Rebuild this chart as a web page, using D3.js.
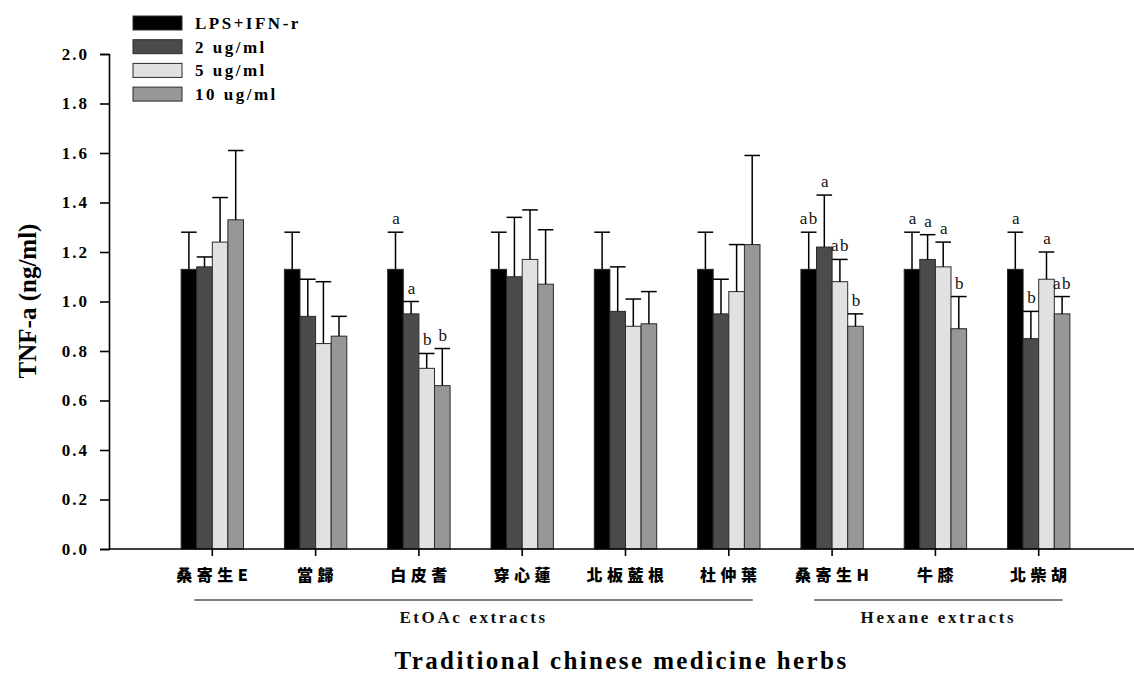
<!DOCTYPE html>
<html>
<head>
<meta charset="utf-8">
<script src="https://cdn.jsdelivr.net/npm/d3@7"></script>
<style>
  html, body { margin: 0; padding: 0; background: #fff; }
  svg { display: block; }
  .serif { font-family: "Liberation Serif", "Times New Roman", serif; }
  .cjk { font-family: "Noto Sans CJK TC", "Noto Sans CJK SC", sans-serif; }
</style>
</head>
<body>
<script>
// Herb extracts on the x axis
const categories = ["桑寄生E", "當歸", "白皮耆", "穿心蓮", "北板藍根", "杜仲葉", "桑寄生H", "牛膝", "北柴胡"];
const seriesNames = ["LPS+IFN-r", "2 ug/ml", "5 ug/ml", "10 ug/ml"];
const seriesColors = ["#000000", "#4b4b4b", "#e1e1e1", "#979797"];

// TNF-a means (ng/ml) and error (SD) per treatment
const lpsMean   = [1.13, 1.13, 1.13, 1.13, 1.13, 1.13, 1.13, 1.13, 1.13];
const lpsErr    = [0.15, 0.15, 0.15, 0.15, 0.15, 0.15, 0.15, 0.15, 0.15];
const dose2Mean = [1.14, 0.94, 0.95, 1.10, 0.96, 0.95, 1.22, 1.17, 0.85];
const dose2Err  = [0.04, 0.15, 0.05, 0.24, 0.18, 0.14, 0.21, 0.10, 0.11];
const dose5Mean = [1.24, 0.83, 0.73, 1.17, 0.90, 1.04, 1.08, 1.14, 1.09];
const dose5Err  = [0.18, 0.25, 0.06, 0.20, 0.11, 0.19, 0.09, 0.10, 0.11];
const dose10Mean = [1.33, 0.86, 0.66, 1.07, 0.91, 1.23, 0.90, 0.89, 0.95];
const dose10Err  = [0.28, 0.08, 0.15, 0.22, 0.13, 0.36, 0.05, 0.13, 0.07];

// Significance letters
const lpsLetters    = ["", "", "a", "", "", "", "ab", "a", "a"];
const dose2Letters  = ["", "", "a", "", "", "", "a", "a", "b"];
const dose5Letters  = ["", "", "b", "", "", "", "ab", "a", "a"];
const dose10Letters = ["", "", "b", "", "", "", "b", "b", "ab"];

// Y axis ticks
const yTicks = [0, 0.2, 0.4, 0.6, 0.8, 1.0, 1.2, 1.4, 1.6, 1.8, 2.0];

// Extract groups shown under the axis
const groupNames = ["EtOAc extracts", "Hexane extracts"];
const groupFirst = ["桑寄生E", "桑寄生H"];
const groupLast  = ["杜仲葉", "北柴胡"];

const means = [lpsMean, dose2Mean, dose5Mean, dose10Mean];
const errs = [lpsErr, dose2Err, dose5Err, dose10Err];
const letters = [lpsLetters, dose2Letters, dose5Letters, dose10Letters];

const W = 1134, H = 673;
const axisLeftX = 109, axisBottomY = 549, axisTopY = 54;
const step = 103.3;

const svg = d3.select("body").append("svg").attr("width", W).attr("height", H);

const y = d3.scaleLinear().domain([0, 2]).range([axisBottomY, axisTopY]);
const x0 = d3.scaleBand()
  .domain(categories)
  .range([axisLeftX + step / 2, axisLeftX + step / 2 + step * categories.length])
  .paddingInner(0.396)
  .paddingOuter(0.198);
const x1 = d3.scaleBand().domain(seriesNames).range([0, x0.bandwidth()]);

// Flatten into bar records
const bars = [];
categories.forEach((c, i) => {
  seriesNames.forEach((s, k) => {
    bars.push({ cat: c, series: s, k, value: means[k][i], err: errs[k][i], letter: letters[k][i] });
  });
});

const barG = svg.append("g");
barG.selectAll("rect").data(bars).join("rect")
  .attr("x", d => x0(d.cat) + x1(d.series))
  .attr("y", d => y(d.value))
  .attr("width", x1.bandwidth())
  .attr("height", d => y(0) - y(d.value))
  .attr("fill", d => seriesColors[d.k])
  .attr("stroke", "#2a2a2a")
  .attr("stroke-width", 1);

// Error bars (upper only)
const errG = svg.append("g").attr("stroke", "#000").attr("stroke-width", 1.5);
bars.forEach(d => {
  const cx = x0(d.cat) + x1(d.series) + x1.bandwidth() / 2;
  const hw = x1.bandwidth() / 2;
  errG.append("line").attr("x1", cx).attr("x2", cx).attr("y1", y(d.value)).attr("y2", y(d.value + d.err));
  errG.append("line").attr("x1", cx - hw).attr("x2", cx + hw).attr("y1", y(d.value + d.err)).attr("y2", y(d.value + d.err));
});

// Letters above error bars
svg.append("g").selectAll("text").data(bars.filter(d => d.letter)).join("text")
  .attr("class", "serif")
  .attr("x", d => x0(d.cat) + x1(d.series) + x1.bandwidth() / 2 + 0.5)
  .attr("y", d => y(d.value + d.err) - 8)
  .attr("text-anchor", "middle")
  .attr("font-size", 17)
  .attr("letter-spacing", d => d.letter.length > 1 ? "1.5px" : "0px")
  .attr("fill", "#111")
  .text(d => d.letter);

// Y axis
const yAxis = d3.axisLeft(y).tickValues(yTicks).tickFormat(d3.format(".1f")).tickSize(9).tickPadding(11);
const yg = svg.append("g").attr("transform", `translate(${axisLeftX},0)`).call(yAxis);
yg.select(".domain").attr("stroke", "#000").attr("stroke-width", 1.6);
yg.selectAll(".tick line").attr("stroke", "#000").attr("stroke-width", 1.6);
yg.selectAll(".tick text")
  .attr("class", "serif")
  .attr("font-size", 17)
  .attr("font-weight", "bold")
  .attr("letter-spacing", "2px")
  .attr("fill", "#000");

// X axis baseline across the full width
svg.append("line")
  .attr("x1", axisLeftX).attr("x2", W).attr("y1", y(0)).attr("y2", y(0))
  .attr("stroke", "#000").attr("stroke-width", 1.6);

const xAxis = d3.axisBottom(x0).tickSize(7).tickFormat("");
const xg = svg.append("g").attr("transform", `translate(0,${y(0)})`).call(xAxis);
xg.select(".domain").remove();
xg.selectAll(".tick line").attr("stroke", "#000").attr("stroke-width", 1.6);

// Category labels
svg.append("g").selectAll("text").data(categories).join("text")
  .attr("class", "cjk")
  .attr("x", d => x0(d) + x0.bandwidth() / 2 + 2)
  .attr("y", 581)
  .attr("text-anchor", "middle")
  .attr("font-size", 16)
  .attr("font-weight", 900)
  .attr("letter-spacing", "4.5px")
  .attr("fill", "#000")
  .text(d => d);

// Extract group brackets
groupNames.forEach((g, i) => {
  const a = x0(groupFirst[i]) + x0.bandwidth() / 2 - 18;
  const b = x0(groupLast[i]) + x0.bandwidth() / 2 + 24;
  svg.append("line").attr("x1", a).attr("x2", b).attr("y1", 600).attr("y2", 600)
    .attr("stroke", "#555").attr("stroke-width", 1.5);
  svg.append("text")
    .attr("class", "serif")
    .attr("x", (a + b) / 2)
    .attr("y", 623)
    .attr("text-anchor", "middle")
    .attr("font-size", 17)
    .attr("font-weight", "bold")
    .attr("letter-spacing", "2.6px")
    .attr("fill", "#111")
    .text(g);
});

// Axis titles
svg.append("text")
  .attr("class", "serif")
  .attr("x", (axisLeftX + W) / 2)
  .attr("y", 669)
  .attr("text-anchor", "middle")
  .attr("font-size", 25)
  .attr("font-weight", "bold")
  .attr("letter-spacing", "2.4px")
  .attr("fill", "#000")
  .text("Traditional chinese medicine herbs");

svg.append("text")
  .attr("class", "serif")
  .attr("transform", "translate(36,301) rotate(-90)")
  .attr("text-anchor", "middle")
  .attr("font-size", 25)
  .attr("font-weight", "bold")
  .attr("fill", "#000")
  .text("TNF-a (ng/ml)");

// Legend
const legend = svg.append("g");
seriesNames.forEach((s, k) => {
  const ly = 16 + k * 23.7;
  legend.append("rect").attr("x", 133).attr("y", ly).attr("width", 49).attr("height", 14)
    .attr("fill", seriesColors[k]).attr("stroke", "#2a2a2a").attr("stroke-width", 1);
  legend.append("text")
    .attr("class", "serif")
    .attr("x", 195).attr("y", ly + 13)
    .attr("font-size", 17)
    .attr("font-weight", "bold")
    .attr("letter-spacing", "2.5px")
    .attr("fill", "#000")
    .text(s);
});
</script>
</body>
</html>
